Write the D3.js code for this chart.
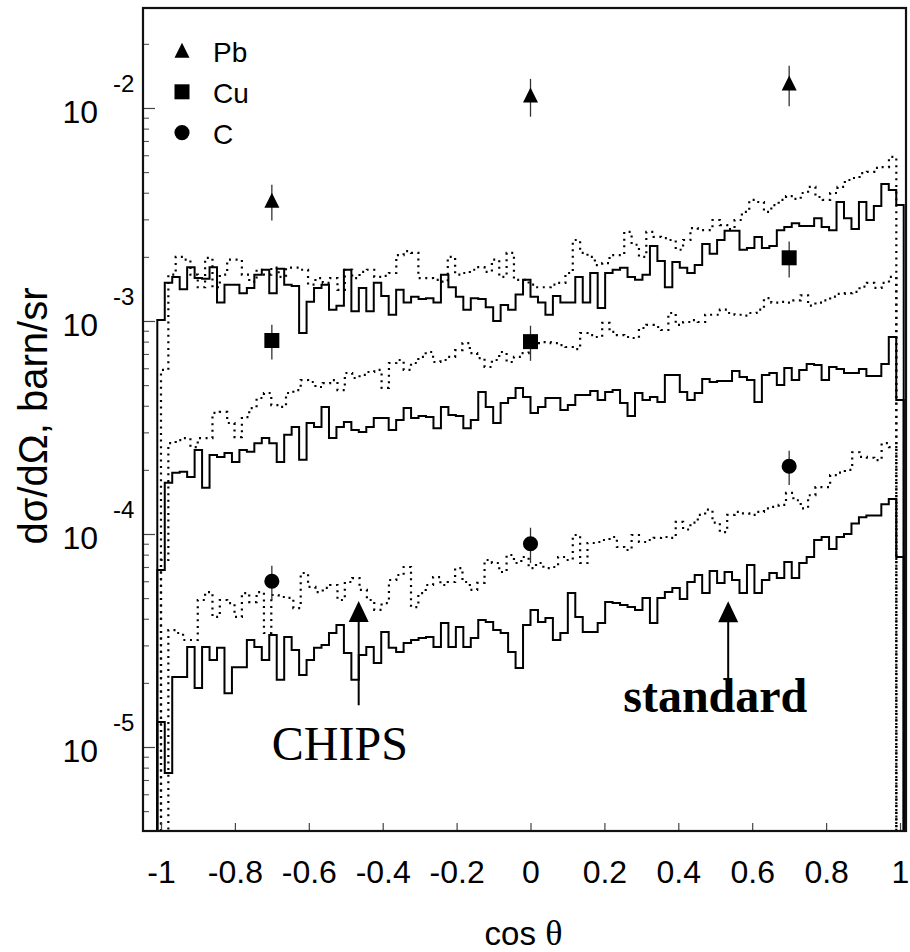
<!DOCTYPE html>
<html>
<head>
<meta charset="utf-8">
<script src="https://cdn.jsdelivr.net/npm/d3@7"></script>
<style>
  body { margin: 0; background: #fff; }
  text { font-family: "Liberation Sans", Arial, Helvetica, sans-serif; fill: #000; }
</style>
</head>
<body>
<svg id="chart" width="910" height="952"></svg>
<script>
// Angular distributions d(sigma)/d(Omega) in barn/sr versus cos(theta).
// Model predictions are 100-bin histograms: "standard" (solid) and CHIPS (dotted).
const standardRange = [-1.01, 1.01];
const chipsRange = [-1.0, 0.99];

const pbStandard = [
  1.01e-3,1.51e-3,1.61e-3,1.41e-3,1.79e-3,1.59e-3,1.58e-3,1.79e-3,1.22e-3,1.48e-3,
  1.48e-3,1.35e-3,1.43e-3,1.65e-3,1.74e-3,1.35e-3,1.76e-3,1.48e-3,1.46e-3,0.878e-3,
  1.23e-3,1.43e-3,1.48e-3,1.13e-3,1.18e-3,1.74e-3,1.11e-3,1.43e-3,1.11e-3,1.51e-3,
  1.31e-3,1.07e-3,1.40e-3,1.22e-3,1.30e-3,1.27e-3,1.28e-3,1.22e-3,1.65e-3,1.44e-3,
  1.30e-3,1.13e-3,1.28e-3,1.27e-3,1.16e-3,1.00e-3,1.19e-3,1.13e-3,1.33e-3,1.56e-3,
  1.30e-3,1.22e-3,1.07e-3,1.31e-3,1.22e-3,1.22e-3,1.61e-3,1.22e-3,1.68e-3,1.15e-3,
  1.68e-3,1.74e-3,1.78e-3,1.61e-3,1.56e-3,1.65e-3,2.25e-3,1.91e-3,1.44e-3,1.89e-3,
  1.78e-3,1.68e-3,1.83e-3,2.30e-3,2.07e-3,2.40e-3,2.65e-3,2.65e-3,2.16e-3,2.20e-3,
  2.48e-3,2.20e-3,2.25e-3,2.67e-3,2.76e-3,2.88e-3,2.79e-3,2.79e-3,3.04e-3,2.76e-3,
  2.67e-3,3.62e-3,3.04e-3,2.70e-3,3.62e-3,2.98e-3,3.47e-3,4.40e-3,4.12e-3,3.50e-3
];
const pbChips = [
  0.589e-3,1.65e-3,2.00e-3,1.94e-3,1.65e-3,1.44e-3,1.98e-3,1.44e-3,1.65e-3,1.94e-3,
  1.94e-3,1.65e-3,1.53e-3,1.74e-3,1.65e-3,1.78e-3,1.61e-3,1.78e-3,1.78e-3,1.74e-3,
  1.48e-3,1.59e-3,1.51e-3,1.59e-3,1.40e-3,1.74e-3,1.59e-3,1.70e-3,1.74e-3,1.61e-3,
  1.63e-3,1.68e-3,2.04e-3,2.13e-3,2.09e-3,1.59e-3,1.59e-3,1.56e-3,1.53e-3,2.00e-3,
  1.65e-3,1.68e-3,1.74e-3,1.79e-3,1.70e-3,1.94e-3,1.61e-3,2.09e-3,1.56e-3,1.56e-3,
  1.48e-3,1.44e-3,1.44e-3,1.48e-3,1.51e-3,1.68e-3,2.40e-3,2.09e-3,2.00e-3,1.83e-3,
  1.87e-3,2.04e-3,2.04e-3,2.62e-3,2.28e-3,2.00e-3,2.62e-3,2.48e-3,2.45e-3,2.40e-3,
  2.16e-3,2.40e-3,2.73e-3,2.67e-3,2.67e-3,2.98e-3,2.82e-3,2.70e-3,2.98e-3,3.25e-3,
  3.70e-3,3.62e-3,3.25e-3,3.50e-3,3.70e-3,3.86e-3,3.74e-3,3.99e-3,4.26e-3,3.82e-3,
  3.70e-3,3.99e-3,4.26e-3,4.59e-3,4.69e-3,4.95e-3,5.01e-3,5.23e-3,5.28e-3,5.89e-3
];
const cuStandard = [
  0.678e-4,1.74e-4,1.94e-4,1.96e-4,1.85e-4,2.48e-4,1.65e-4,2.35e-4,2.30e-4,2.40e-4,
  2.18e-4,2.48e-4,2.43e-4,2.67e-4,2.82e-4,2.67e-4,2.18e-4,2.92e-4,3.18e-4,2.23e-4,
  3.32e-4,3.18e-4,3.95e-4,2.82e-4,3.18e-4,3.36e-4,3.08e-4,3.01e-4,3.18e-4,3.50e-4,
  3.50e-4,3.08e-4,3.43e-4,3.90e-4,3.50e-4,3.58e-4,3.54e-4,3.14e-4,3.95e-4,3.62e-4,
  3.58e-4,3.14e-4,3.43e-4,4.64e-4,3.95e-4,3.32e-4,4.12e-4,4.35e-4,4.85e-4,4.40e-4,
  3.70e-4,3.95e-4,4.35e-4,4.35e-4,3.82e-4,4.03e-4,4.49e-4,4.49e-4,4.69e-4,4.26e-4,
  4.64e-4,4.74e-4,4.12e-4,3.58e-4,4.59e-4,4.26e-4,4.40e-4,4.17e-4,5.58e-4,5.58e-4,
  4.64e-4,4.26e-4,4.59e-4,5.34e-4,5.17e-4,5.23e-4,5.23e-4,5.82e-4,5.46e-4,5.28e-4,
  4.17e-4,5.58e-4,5.70e-4,5.01e-4,6.02e-4,5.28e-4,5.89e-4,6.28e-4,6.21e-4,5.28e-4,
  6.08e-4,5.95e-4,5.70e-4,5.70e-4,5.95e-4,5.52e-4,5.52e-4,6.28e-4,8.41e-4,4.26e-4
];
const cuChips = [
  0.755e-4,2.67e-4,2.76e-4,2.82e-4,2.56e-4,2.82e-4,2.82e-4,3.70e-4,3.74e-4,3.32e-4,
  2.85e-4,3.54e-4,3.90e-4,4.35e-4,4.59e-4,4.03e-4,3.95e-4,4.59e-4,4.74e-4,5.28e-4,
  5.17e-4,4.90e-4,5.11e-4,5.28e-4,4.74e-4,5.70e-4,5.40e-4,5.58e-4,5.76e-4,5.89e-4,
  4.85e-4,6.35e-4,6.56e-4,5.89e-4,6.35e-4,6.78e-4,7.15e-4,6.42e-4,6.56e-4,6.78e-4,
  7.30e-4,7.88e-4,7.07e-4,6.70e-4,6.08e-4,6.56e-4,7.15e-4,6.42e-4,6.78e-4,7.07e-4,
  7.47e-4,7.88e-4,7.96e-4,7.88e-4,7.71e-4,7.55e-4,7.38e-4,8.78e-4,8.59e-4,8.41e-4,
  9.79e-4,8.88e-4,8.59e-4,8.41e-4,8.32e-4,9.27e-4,9.58e-4,9.37e-4,9.07e-4,1.09e-3,
  9.58e-4,9.89e-4,1.01e-3,9.89e-4,1.07e-3,1.07e-3,1.13e-3,1.09e-3,1.07e-3,1.06e-3,
  1.09e-3,1.13e-3,1.28e-3,1.22e-3,1.23e-3,1.22e-3,1.25e-3,1.32e-3,1.18e-3,1.22e-3,
  1.25e-3,1.30e-3,1.34e-3,1.35e-3,1.37e-3,1.45e-3,1.51e-3,1.43e-3,1.51e-3,1.61e-3
];
const cStandard = [
  1.31e-5,0.755e-5,2.13e-5,2.13e-5,2.95e-5,1.89e-5,2.95e-5,2.56e-5,2.92e-5,1.79e-5,
  2.37e-5,2.37e-5,3.18e-5,2.95e-5,2.56e-5,3.36e-5,2.07e-5,3.28e-5,2.85e-5,2.18e-5,
  2.56e-5,2.92e-5,3.01e-5,3.43e-5,3.74e-5,2.76e-5,2.07e-5,2.70e-5,2.95e-5,2.48e-5,
  3.47e-5,2.92e-5,2.79e-5,3.08e-5,3.18e-5,3.25e-5,3.28e-5,2.95e-5,3.82e-5,2.95e-5,
  3.66e-5,2.95e-5,3.25e-5,3.95e-5,3.86e-5,3.54e-5,3.43e-5,2.79e-5,2.35e-5,3.74e-5,
  4.40e-5,3.86e-5,4.03e-5,3.18e-5,3.43e-5,5.28e-5,4.08e-5,3.47e-5,3.47e-5,3.82e-5,
  4.79e-5,4.74e-5,4.64e-5,4.54e-5,4.40e-5,5.01e-5,3.82e-5,5.01e-5,5.34e-5,5.58e-5,
  4.95e-5,5.95e-5,6.42e-5,5.28e-5,6.70e-5,5.89e-5,6.63e-5,6.08e-5,5.28e-5,7.15e-5,
  5.28e-5,6.08e-5,6.56e-5,6.21e-5,7.39e-5,6.21e-5,7.31e-5,7.80e-5,9.37e-5,9.68e-5,
  8.50e-5,9.68e-5,1.00e-4,1.12e-4,1.20e-4,1.22e-4,1.22e-4,1.38e-4,1.46e-4,7.80e-5
];
const cChips = [
  0.20e-5,3.54e-5,3.43e-5,3.18e-5,3.18e-5,4.90e-5,5.34e-5,4.08e-5,4.90e-5,4.74e-5,
  4.08e-5,5.28e-5,4.79e-5,5.34e-5,3.43e-5,5.17e-5,5.06e-5,5.01e-5,4.49e-5,6.56e-5,
  5.64e-5,5.34e-5,5.58e-5,5.76e-5,4.90e-5,5.95e-5,6.21e-5,5.46e-5,4.90e-5,4.40e-5,
  4.74e-5,6.08e-5,6.42e-5,7.00e-5,4.54e-5,5.28e-5,5.76e-5,6.28e-5,5.76e-5,5.95e-5,
  6.92e-5,5.95e-5,5.46e-5,5.89e-5,7.55e-5,7.31e-5,6.63e-5,7.97e-5,7.31e-5,7.80e-5,
  6.92e-5,7.31e-5,6.92e-5,7.00e-5,7.80e-5,7.55e-5,9.89e-5,7.31e-5,9.07e-5,9.17e-5,
  9.37e-5,9.68e-5,8.69e-5,8.41e-5,9.89e-5,9.17e-5,9.37e-5,9.58e-5,9.68e-5,9.58e-5,
  1.14e-4,1.05e-4,1.13e-4,1.23e-4,1.30e-4,1.13e-4,1.02e-4,1.23e-4,1.27e-4,1.25e-4,
  1.23e-4,1.27e-4,1.32e-4,1.34e-4,1.37e-4,1.56e-4,1.44e-4,1.32e-4,1.52e-4,1.66e-4,
  1.66e-4,1.89e-4,1.94e-4,2.00e-4,2.42e-4,2.30e-4,2.28e-4,2.22e-4,2.67e-4,2.56e-4
];

// Measured cross sections at three angles
const measuredCos = [-0.7, 0, 0.7];
const pbMeasured = [3.66e-3, 1.14e-2, 1.30e-2];
const pbErrors   = [0.70e-3, 2.3e-3, 2.8e-3];
const cuMeasured = [8.1e-4, 8.0e-4, 1.98e-3];
const cuErrors   = [1.5e-4, 1.5e-4, 3.8e-4];
const cMeasured  = [6.0e-5, 9.0e-5, 2.08e-4];
const cErrors    = [1.1e-5, 1.7e-5, 3.8e-5];
const targets = ["Pb", "Cu", "C"];

// Axes
const xTicks = [-1, -0.8, -0.6, -0.4, -0.2, 0, 0.2, 0.4, 0.6, 0.8, 1];
const xTickLabels = ["-1", "-0.8", "-0.6", "-0.4", "-0.2", "0", "0.2", "0.4", "0.6", "0.8", "1"];
const yDecades = [1e-5, 1e-4, 1e-3, 1e-2];
const yDecadeExponents = ["-5", "-4", "-3", "-2"];
const xTitleParts = ["cos ", "θ"];
const yTitle = "dσ/dΩ, barn/sr";

// Arrow annotations: label, cos(theta), label level, arrow tail, arrow tip
const annotations = [
  { text: "CHIPS",    bold: false, cos: -0.465, labelCos: -0.516, labelAt: 8.7e-6, tail: 1.57e-5, tip: 4.85e-5 },
  { text: "standard", bold: true,  cos: 0.535,  labelCos: 0.50,   labelAt: 1.46e-5, tail: 1.89e-5, tip: 4.83e-5 }
];

// ---------------------------------------------------------------
const svg = d3.select("#chart");
const frame = { left: 143, right: 906, top: 8, bottom: 831 };

const x = d3.scaleLinear().domain([-1.0487, 1.0162]).range([frame.left, frame.right]);
const y = d3.scaleLog().domain([4.033e-6, 2.947e-2]).range([frame.bottom, frame.top]);
const yFloor = y.domain()[0];

svg.append("defs").append("clipPath").attr("id", "plotArea")
  .append("rect")
  .attr("x", frame.left).attr("y", frame.top)
  .attr("width", frame.right - frame.left).attr("height", frame.bottom - frame.top);

// Histogram outline: rises from the axis floor, steps across bins, drops back at the end
function outline(values, range) {
  const w = (range[1] - range[0]) / values.length;
  const pts = [[range[0], yFloor]];
  values.forEach((v, i) => pts.push([range[0] + i * w, v]));
  pts.push([range[1], values[values.length - 1]]);
  pts.push([range[1], yFloor]);
  return pts;
}
const stepLine = d3.line()
  .x(d => x(d[0]))
  .y(d => y(d[1]))
  .curve(d3.curveStepAfter);

const plot = svg.append("g").attr("clip-path", "url(#plotArea)");

const histos = [
  { values: pbChips, range: chipsRange, dotted: true },
  { values: cuChips, range: chipsRange, dotted: true },
  { values: cChips,  range: chipsRange, dotted: true },
  { values: pbStandard, range: standardRange, dotted: false },
  { values: cuStandard, range: standardRange, dotted: false },
  { values: cStandard,  range: standardRange, dotted: false }
];
plot.selectAll("path.histo")
  .data(histos)
  .join("path")
  .attr("class", "histo")
  .attr("d", d => stepLine(outline(d.values, d.range)))
  .attr("fill", "none")
  .attr("stroke", "#000")
  .attr("stroke-width", d => d.dotted ? 2.2 : 2)
  .attr("stroke-dasharray", d => d.dotted ? "2 4.6" : null)
  .attr("stroke-linejoin", "miter");

// Marker shapes
const triangleSymbol = {
  draw(ctx, size) {
    const h = Math.sqrt(size);
    ctx.moveTo(0, -h * 0.55);
    ctx.lineTo(h * 0.5, h * 0.45);
    ctx.lineTo(-h * 0.5, h * 0.45);
    ctx.closePath();
  }
};
const markerPath = {
  Pb: d3.symbol().type(triangleSymbol).size(225)(),
  Cu: d3.symbol().type(d3.symbolSquare).size(225)(),
  C:  d3.symbol().type(d3.symbolCircle).size(180)()
};

const measured = [
  { target: "Pb", values: pbMeasured, errors: pbErrors },
  { target: "Cu", values: cuMeasured, errors: cuErrors },
  { target: "C",  values: cMeasured,  errors: cErrors }
];
const points = measured.flatMap(s => s.values.map((v, i) => ({
  target: s.target, cos: measuredCos[i], value: v, err: s.errors[i]
})));

plot.selectAll("line.err")
  .data(points)
  .join("line")
  .attr("class", "err")
  .attr("x1", d => x(d.cos)).attr("x2", d => x(d.cos))
  .attr("y1", d => y(d.value + d.err)).attr("y2", d => y(d.value - d.err))
  .attr("stroke", "#333").attr("stroke-width", 1.3);

plot.selectAll("path.marker")
  .data(points)
  .join("path")
  .attr("class", "marker")
  .attr("transform", d => `translate(${x(d.cos)},${y(d.value)})`)
  .attr("d", d => markerPath[d.target])
  .attr("fill", "#000");

// Legend
const legend = svg.append("g").attr("transform", "translate(182,51)");
targets.forEach((t, i) => {
  const row = legend.append("g").attr("transform", `translate(0,${i * 40.8})`);
  row.append("path").attr("d", markerPath[t]).attr("fill", "#000");
  row.append("text").attr("x", 31).attr("y", 11).attr("font-size", 28).text(t);
});

// Arrow annotations
annotations.forEach(a => {
  const ax = x(a.cos), tipY = y(a.tip);
  svg.append("line")
    .attr("x1", ax).attr("x2", ax)
    .attr("y1", y(a.tail)).attr("y2", tipY + 18)
    .attr("stroke", "#000").attr("stroke-width", 2);
  svg.append("path")
    .attr("d", `M${ax},${tipY} L${ax + 10},${tipY + 21} L${ax - 10},${tipY + 21} Z`)
    .attr("fill", "#000");
  svg.append("text")
    .attr("x", x(a.labelCos)).attr("y", y(a.labelAt))
    .attr("text-anchor", "middle")
    .style("font-family", '"Liberation Serif", "Times New Roman", serif')
    .attr("font-weight", a.bold ? "bold" : "normal")
    .attr("font-size", 48)
    .text(a.text);
});

// X axis: ticks point into the frame
const xAxis = d3.axisBottom(x)
  .tickValues(xTicks)
  .tickFormat((d, i) => xTickLabels[i])
  .tickSizeInner(-8).tickSizeOuter(0)
  .tickPadding(29);
const gx = svg.append("g").attr("transform", `translate(0,${frame.bottom})`).call(xAxis);
gx.select(".domain").remove();
gx.selectAll(".tick line").attr("stroke", "#444").attr("stroke-width", 1.2);
gx.selectAll(".tick text").attr("font-size", 32).attr("fill", "#000")
  .style("font-family", '"Liberation Sans", Arial, sans-serif');

// Y axis: log decades with minor ticks
const minorTicks = [];
[-6, -5, -4, -3, -2].forEach(k => {
  for (let m = 2; m <= 9; m++) {
    const v = m * Math.pow(10, k);
    if (v > y.domain()[0] && v < y.domain()[1]) minorTicks.push(v);
  }
});
const gyMinor = svg.append("g").attr("transform", `translate(${frame.left},0)`)
  .call(d3.axisLeft(y).tickValues(minorTicks).tickFormat("").tickSizeInner(-6).tickSizeOuter(0));
gyMinor.select(".domain").remove();
gyMinor.selectAll(".tick line").attr("stroke", "#555").attr("stroke-width", 1.1);

const gy = svg.append("g").attr("transform", `translate(${frame.left},0)`)
  .call(d3.axisLeft(y).tickValues(yDecades).tickFormat("").tickSizeInner(-12).tickSizeOuter(0));
gy.select(".domain").remove();
gy.selectAll(".tick line").attr("stroke", "#444").attr("stroke-width", 1.2);
gy.selectAll(".tick").each(function (d, i) {
  const g = d3.select(this);
  g.append("text").attr("x", -45).attr("y", 15)
    .attr("text-anchor", "end").attr("font-size", 32).attr("fill", "#000")
    .style("font-family", '"Liberation Sans", Arial, sans-serif')
    .text("10");
  g.append("text").attr("x", -30).attr("y", -16)
    .attr("text-anchor", "start").attr("font-size", 24).attr("fill", "#000")
    .style("font-family", '"Liberation Sans", Arial, sans-serif')
    .text(yDecadeExponents[i]);
});

// Frame
svg.append("rect")
  .attr("x", frame.left).attr("y", frame.top)
  .attr("width", frame.right - frame.left).attr("height", frame.bottom - frame.top)
  .attr("fill", "none").attr("stroke", "#111").attr("stroke-width", 2.2);

// Axis titles
const xt = svg.append("text")
  .attr("x", (frame.left + frame.right) / 2 - 1).attr("y", 945)
  .attr("text-anchor", "middle").attr("font-size", 33);
xt.append("tspan").text(xTitleParts[0]);
xt.append("tspan")
  .style("font-family", '"Liberation Serif", "Times New Roman", serif')
  .attr("font-size", 36)
  .text(xTitleParts[1]);
svg.append("text")
  .attr("transform", "translate(47,416) rotate(-90)")
  .attr("text-anchor", "middle").attr("font-size", 40)
  .text(yTitle);
</script>
</body>
</html>
